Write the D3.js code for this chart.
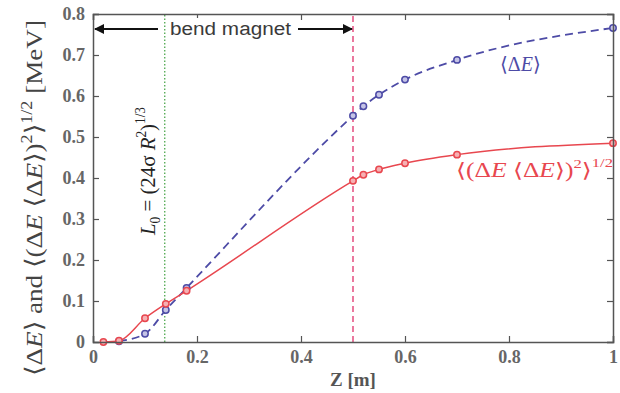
<!DOCTYPE html>
<html>
<head>
<meta charset="utf-8">
<script src="https://cdn.jsdelivr.net/npm/d3@7"></script>
<style>
  body { margin: 0; background: #fff; }
  svg { display: block; }
</style>
</head>
<body>
<svg width="620" height="393"></svg>
<script>
// energy spread along the magnet
var zMean = [0.05, 0.1, 0.14, 0.18, 0.5, 0.52, 0.55, 0.6, 0.7, 1.0];
var meanE = [0.002, 0.02, 0.078, 0.132, 0.552, 0.575, 0.603, 0.640, 0.688, 0.766];
var zRms = [0.02, 0.05, 0.1, 0.14, 0.18, 0.5, 0.52, 0.55, 0.6, 0.7, 1.0];
var rmsE = [0, 0.003, 0.058, 0.093, 0.125, 0.393, 0.408, 0.421, 0.436, 0.457, 0.485];
var xTicks = [0, 0.2, 0.4, 0.6, 0.8, 1];
var yTicks = [0, 0.1, 0.2, 0.3, 0.4, 0.5, 0.6, 0.7, 0.8];
var zL0 = 0.138, zMagnetEnd = 0.5;

var svg = d3.select("svg");
var padL = 93, padR = 613, padT = 14, padB = 342;

var x = d3.scaleLinear().domain([0, 1]).range([padL, padR]);
var y = d3.scaleLinear().domain([0, 0.8]).range([padB, padT]);

var blue = "#4d4ba6", red = "#e8474f", axisCol = "#555";
var serif = "'Liberation Serif', 'DejaVu Serif', serif";

// vertical markers
svg.append("line")
    .attr("x1", x(zL0)).attr("x2", x(zL0))
    .attr("y1", y(0)).attr("y2", y(0.8))
    .attr("stroke", "#3fa03f").attr("stroke-width", 1.2)
    .attr("stroke-dasharray", "1.5,2");
svg.append("line")
    .attr("x1", x(zMagnetEnd)).attr("x2", x(zMagnetEnd))
    .attr("y1", y(0)).attr("y2", y(0.8))
    .attr("stroke", "#e0306a").attr("stroke-width", 1.3)
    .attr("stroke-dasharray", "6,4");

// lines
var meanData = zMean.map(function(z, i){ return [z, meanE[i]]; });
var rmsData = zRms.map(function(z, i){ return [z, rmsE[i]]; });

var line = d3.line()
    .x(function(d){ return x(d[0]); })
    .y(function(d){ return y(d[1]); })
    .curve(d3.curveMonotoneX);

svg.append("path").datum(meanData)
    .attr("d", line).attr("fill", "none")
    .attr("stroke", blue).attr("stroke-width", 1.8)
    .attr("stroke-dasharray", "8,5");
svg.append("path").datum(rmsData)
    .attr("d", line).attr("fill", "none")
    .attr("stroke", red).attr("stroke-width", 1.5);

svg.selectAll("circle.mean").data(meanData).enter()
    .append("circle").attr("class", "mean")
    .attr("cx", function(d){ return x(d[0]); })
    .attr("cy", function(d){ return y(d[1]); })
    .attr("r", 3.2)
    .attr("fill", "#c4c3e6").attr("stroke", blue).attr("stroke-width", 1.5);
svg.selectAll("circle.rms").data(rmsData).enter()
    .append("circle").attr("class", "rms")
    .attr("cx", function(d){ return x(d[0]); })
    .attr("cy", function(d){ return y(d[1]); })
    .attr("r", 3.2)
    .attr("fill", "#f6b0b3").attr("stroke", red).attr("stroke-width", 1.5);

// axes: labelled bottom/left, plain top/right, ticks pointing in
var fmt = d3.format("");
svg.append("g").attr("transform", "translate(0," + padB + ")")
    .call(d3.axisBottom(x).tickValues(xTicks).tickFormat(fmt).tickSize(-6).tickPadding(8));
svg.append("g").attr("transform", "translate(0," + padT + ")")
    .call(d3.axisTop(x).tickValues(xTicks).tickFormat("").tickSize(-6));
svg.append("g").attr("transform", "translate(" + padL + ",0)")
    .call(d3.axisLeft(y).tickValues(yTicks).tickFormat(fmt).tickSize(-6).tickPadding(8));
svg.append("g").attr("transform", "translate(" + padR + ",0)")
    .call(d3.axisRight(y).tickValues(yTicks).tickFormat("").tickSize(-6));

svg.selectAll(".domain").attr("stroke", axisCol).attr("stroke-width", 1.5);
svg.selectAll(".tick line").attr("stroke", axisCol).attr("stroke-width", 1.2);
svg.selectAll(".tick text")
    .attr("fill", "#666").style("font-family", serif)
    .style("font-size", "18px").style("font-weight", "bold");

// bend magnet arrows
var defs = svg.append("defs");
defs.append("marker").attr("id", "head")
    .attr("viewBox", "0 0 10 10").attr("refX", 9).attr("refY", 5)
    .attr("markerWidth", 7).attr("markerHeight", 5)
    .attr("orient", "auto-start-reverse")
    .append("path").attr("d", "M0,0L10,5L0,10Z").attr("fill", "#111");

svg.append("line")
    .attr("x1", 158).attr("x2", x(0) + 2).attr("y1", 29).attr("y2", 29)
    .attr("stroke", "#111").attr("stroke-width", 2)
    .attr("marker-end", "url(#head)");
svg.append("line")
    .attr("x1", 298).attr("x2", x(zMagnetEnd) - 1).attr("y1", 29).attr("y2", 29)
    .attr("stroke", "#111").attr("stroke-width", 2)
    .attr("marker-end", "url(#head)");
svg.append("rect")
    .attr("x", 167).attr("y", 18).attr("width", 127).attr("height", 21)
    .attr("fill", "#fff");
svg.append("text")
    .attr("x", 170).attr("y", 35)
    .attr("textLength", 121).attr("lengthAdjust", "spacingAndGlyphs")
    .style("font-family", "'Liberation Sans', Arial, sans-serif")
    .style("font-size", "18px").attr("fill", "#3a3a3a")
    .text("bend magnet");

// L0 label along the green line
var l0 = svg.append("text")
    .attr("transform", "translate(155,235) rotate(-90)")
    .attr("textLength", 128).attr("lengthAdjust", "spacingAndGlyphs")
    .style("font-family", serif).style("font-size", "22px").attr("fill", "#222");
l0.append("tspan").style("font-style", "italic").text("L");
l0.append("tspan").attr("dy", 5).style("font-size", "14px").text("0");
l0.append("tspan").attr("dy", -5).text(" = (24σ ");
l0.append("tspan").style("font-style", "italic").text("R");
l0.append("tspan").attr("dy", -9).style("font-size", "14px").text("2");
l0.append("tspan").attr("dy", 9).text(")");
l0.append("tspan").attr("dy", -10).style("font-size", "14px").text("1/3");

// series labels
var lb = svg.append("text").attr("x", 500).attr("y", 71)
    .style("font-family", serif).style("font-size", "20px").attr("fill", blue);
lb.append("tspan").text("⟨Δ");
lb.append("tspan").style("font-style", "italic").text("E");
lb.append("tspan").text("⟩");

var lr = svg.append("text").attr("x", 456).attr("y", 177)
    .attr("textLength", 157).attr("lengthAdjust", "spacingAndGlyphs")
    .style("font-family", serif).style("font-size", "20px").attr("fill", red);
lr.append("tspan").text("⟨(Δ");
lr.append("tspan").style("font-style", "italic").text("E");
lr.append("tspan").text("  ⟨Δ");
lr.append("tspan").style("font-style", "italic").text("E");
lr.append("tspan").text("⟩)");
lr.append("tspan").attr("dy", -9).style("font-size", "13px").text("2");
lr.append("tspan").attr("dy", 9).text("⟩");
lr.append("tspan").attr("dy", -10).style("font-size", "13px").text("1/2");

// axis titles
svg.append("text")
    .attr("x", 353).attr("y", 386).attr("text-anchor", "middle")
    .style("font-family", serif).style("font-size", "19px")
    .style("font-weight", "bold").attr("fill", "#555")
    .text("Z [m]");

var yl = svg.append("text")
    .attr("transform", "translate(42,198) rotate(-90)")
    .attr("text-anchor", "middle")
    .attr("textLength", 356).attr("lengthAdjust", "spacingAndGlyphs")
    .style("font-family", serif).style("font-size", "24px").attr("fill", "#444");
yl.append("tspan").text("⟨Δ");
yl.append("tspan").style("font-style", "italic").text("E");
yl.append("tspan").text("⟩ and ⟨(Δ");
yl.append("tspan").style("font-style", "italic").text("E");
yl.append("tspan").text("  ⟨Δ");
yl.append("tspan").style("font-style", "italic").text("E");
yl.append("tspan").text("⟩)");
yl.append("tspan").attr("dy", -10).style("font-size", "16px").text("2");
yl.append("tspan").attr("dy", 10).text("⟩");
yl.append("tspan").attr("dy", -10).style("font-size", "16px").text("1/2");
yl.append("tspan").attr("dy", 10).text(" [MeV]");
</script>
</body>
</html>
